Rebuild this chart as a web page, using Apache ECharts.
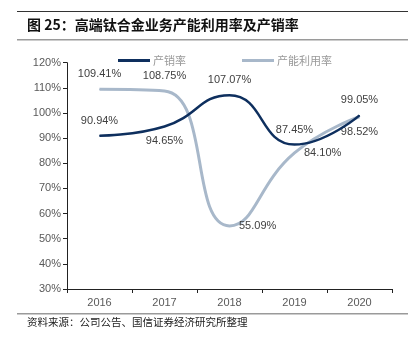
<!DOCTYPE html>
<html><head><meta charset="utf-8">
<script src="https://cdn.jsdelivr.net/npm/echarts@6/dist/echarts.min.js"></script>
<style>html,body{margin:0;padding:0;background:#fff}#c{width:408px;height:344px}</style>
</head><body><div id="c"></div>
<script>
const categories = ['2016', '2017', '2018', '2019', '2020'];
const salesRate = [90.94, 94.65, 107.07, 87.45, 99.05];
const capacityUtil = [109.41, 108.75, 55.09, 84.10, 98.52];
const yTicks = [30, 40, 50, 60, 70, 80, 90, 100, 110, 120];

const salesPos = ['top', 'bottom', 'top', 'top', 'top'];
const capPos = ['top', 'top', 'right', 'right', 'bottom'];

const font = '"Liberation Sans", Arial, sans-serif';
const cjk = '"Noto Sans CJK SC", sans-serif';

function mk(vals, pos) {
  return vals.map((v, i) => ({ value: v, label: { position: pos[i] } }));
}

const chart = echarts.init(document.getElementById('c'), null, { renderer: 'canvas' });
chart.setOption({
  animation: false,
  backgroundColor: '#fff',
  graphic: {
    elements: [
      { type: 'rect', z: 100, shape: { x: 17, y: 11, width: 391, height: 1 }, style: { fill: '#333333' } },
      { type: 'text', left: 27, top: 18, style: { text: '图 25：高端钛合金业务产能利用率及产销率', font: 'bold 14px ' + cjk, fill: '#111' } },
      { type: 'rect', z: 100, shape: { x: 17, y: 39, width: 391, height: 1.5 }, style: { fill: '#9a9a9a' } },
      { type: 'rect', z: 100, shape: { x: 17, y: 313, width: 391, height: 1.5 }, style: { fill: '#9a9a9a' } },
      { type: 'text', left: 27, top: 317, style: { text: '资料来源：公司公告、国信证券经济研究所整理', font: '10.5px ' + cjk, fill: '#222' } }
    ]
  },
  legend: {
    top: 50, left: 113, itemGap: 56, itemWidth: 32, itemHeight: 3,
    icon: 'rect',
    textStyle: { color: '#999', fontSize: 11, fontFamily: cjk, padding: [0, 0, 0, -2] },
    data: ['产销率', '产能利用率']
  },
  grid: { left: 67, right: 16, top: 62.7, bottom: 55 },
  xAxis: {
    type: 'category', data: categories, boundaryGap: true,
    axisLine: { lineStyle: { color: '#222', width: 1 } },
    axisTick: { show: true, length: 4, lineStyle: { color: '#222' } },
    axisLabel: { color: '#595959', fontSize: 11, fontFamily: font, margin: 8 }
  },
  yAxis: {
    type: 'value', min: yTicks[0], max: yTicks[yTicks.length - 1], interval: 10,
    axisLine: { show: true, lineStyle: { color: '#222', width: 1 } },
    axisTick: { show: true, length: 4, lineStyle: { color: '#222' } },
    splitLine: { show: false },
    axisLabel: { color: '#595959', fontSize: 11, fontFamily: font, margin: 6, formatter: v => v + '%' }
  },
  series: [
    {
      name: '产销率', type: 'line', smooth: 0.5, symbol: 'circle', symbolSize: 1, showSymbol: true,
      data: mk(salesRate, salesPos),
      lineStyle: { color: '#0E2F5E', width: 2.5 },
      itemStyle: { color: '#0E2F5E' },
      label: { show: true, color: '#404040', fontSize: 11, fontFamily: font, distance: 9, formatter: p => p.value.toFixed(2) + '%' },
      labelLayout: { hideOverlap: false },
      z: 3
    },
    {
      name: '产能利用率', type: 'line', smooth: 0.5, symbol: 'circle', symbolSize: 1, showSymbol: true,
      data: mk(capacityUtil, capPos),
      lineStyle: { color: '#A8B8CA', width: 3 },
      itemStyle: { color: '#A8B8CA' },
      label: { show: true, color: '#404040', fontSize: 11, fontFamily: font, distance: 9, formatter: p => p.value.toFixed(2) + '%' },
      labelLayout: { hideOverlap: false },
      z: 2
    }
  ]
});
</script></body></html>
